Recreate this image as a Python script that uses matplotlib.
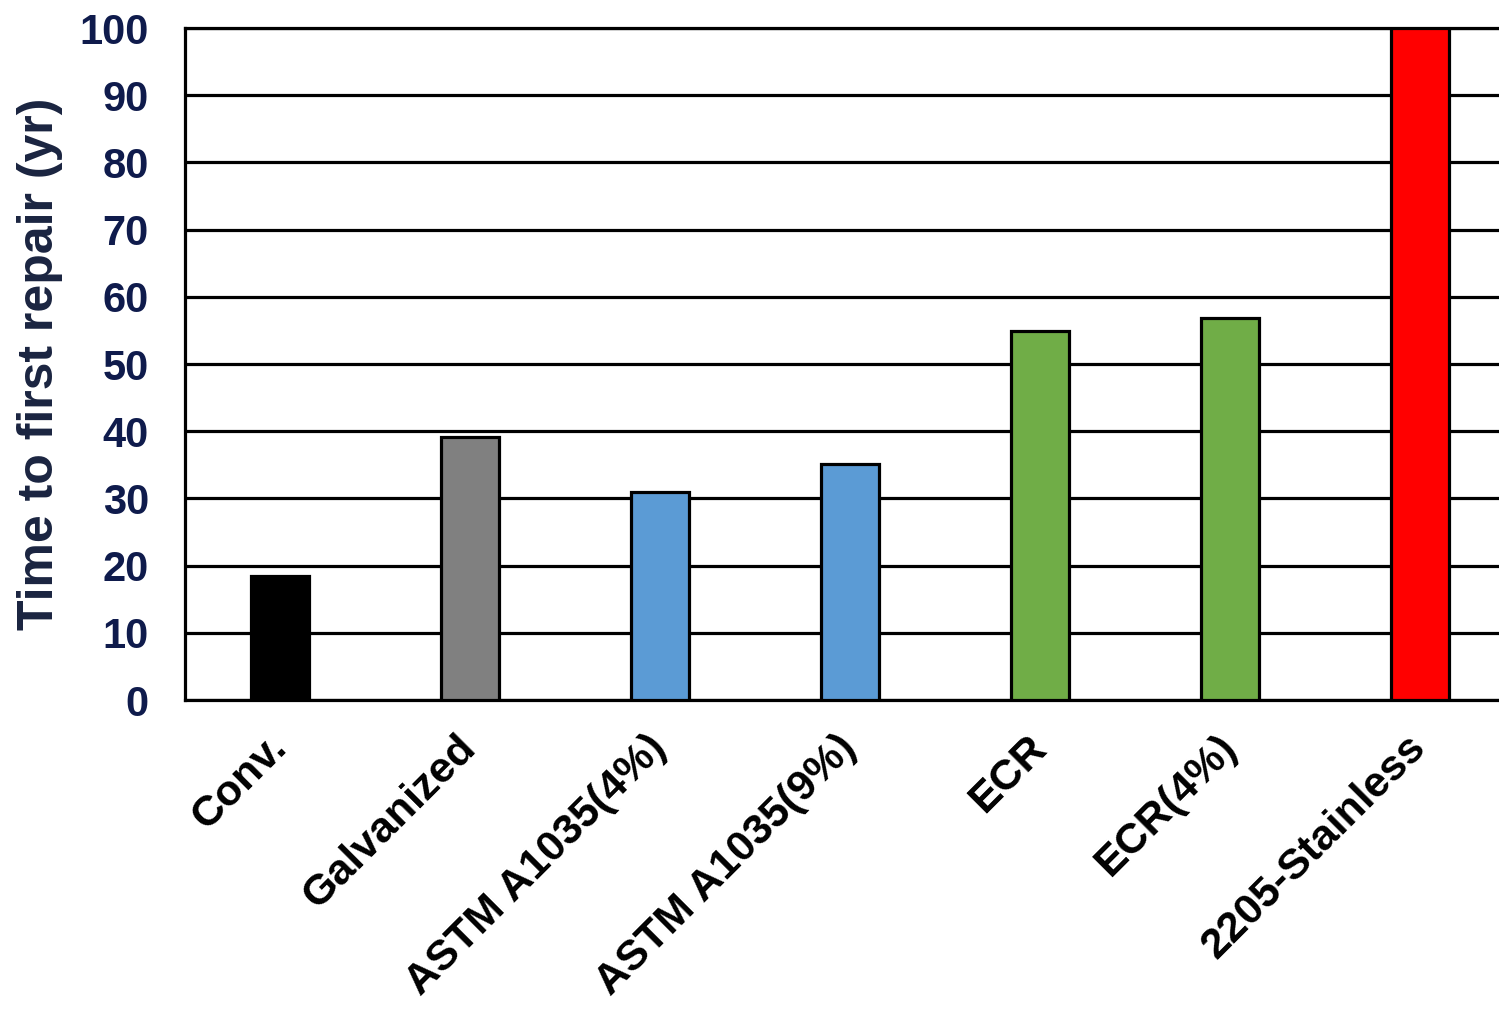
import numpy as np
import matplotlib
matplotlib.use("Agg")
import matplotlib.pyplot as plt

plt.rcParams['font.family'] = ['Liberation Sans', 'DejaVu Sans']

categories = ["Conv.", "Galvanized", "ASTM A1035(4%)", "ASTM A1035(9%)",
              "ECR", "ECR(4%)", "2205-Stainless"]
years = [18.5, 39.2, 30.9, 35.1, 54.9, 56.9, 100]
bar_colors = ["#000000", "#808080", "#5B9BD5", "#5B9BD5",
              "#70AD47", "#70AD47", "#FF0000"]
yticks = list(range(0, 101, 10))

fig = plt.figure(figsize=(14.99, 10.10), dpi=100)
ax = fig.add_axes([185/1499, 310/1010, 1330/1499, 672/1010])

x = np.arange(len(categories))
ax.set_axisbelow(True)
ax.yaxis.grid(True, color="black", lw=2.3)
ax.bar(x, years, width=0.31, color=bar_colors, edgecolor="black", lw=2.3, zorder=3)

ax.set_xlim(-0.5, len(categories) - 0.5)
ax.set_ylim(0, 100)
ax.set_yticks(yticks)
ax.set_xticks(x)
ax.set_xticklabels(categories, rotation=45, ha="right", va="center",
                   rotation_mode="anchor", fontsize=31, fontweight="bold")
ax.tick_params(axis="both", length=0)
ax.tick_params(axis="x", pad=30)
ax.tick_params(axis="y", pad=26, labelsize=30, labelcolor="#0F1B4C")
for lab in ax.get_yticklabels():
    lab.set_fontweight("bold")

for s in ["left", "bottom", "top"]:
    ax.spines[s].set_linewidth(2.3)
ax.spines["right"].set_visible(False)

ax.set_ylabel("Time to first repair (yr)", fontsize=36, fontweight="bold",
              color="#1A2440", labelpad=12)

fig.savefig("out.png", dpi=100)
